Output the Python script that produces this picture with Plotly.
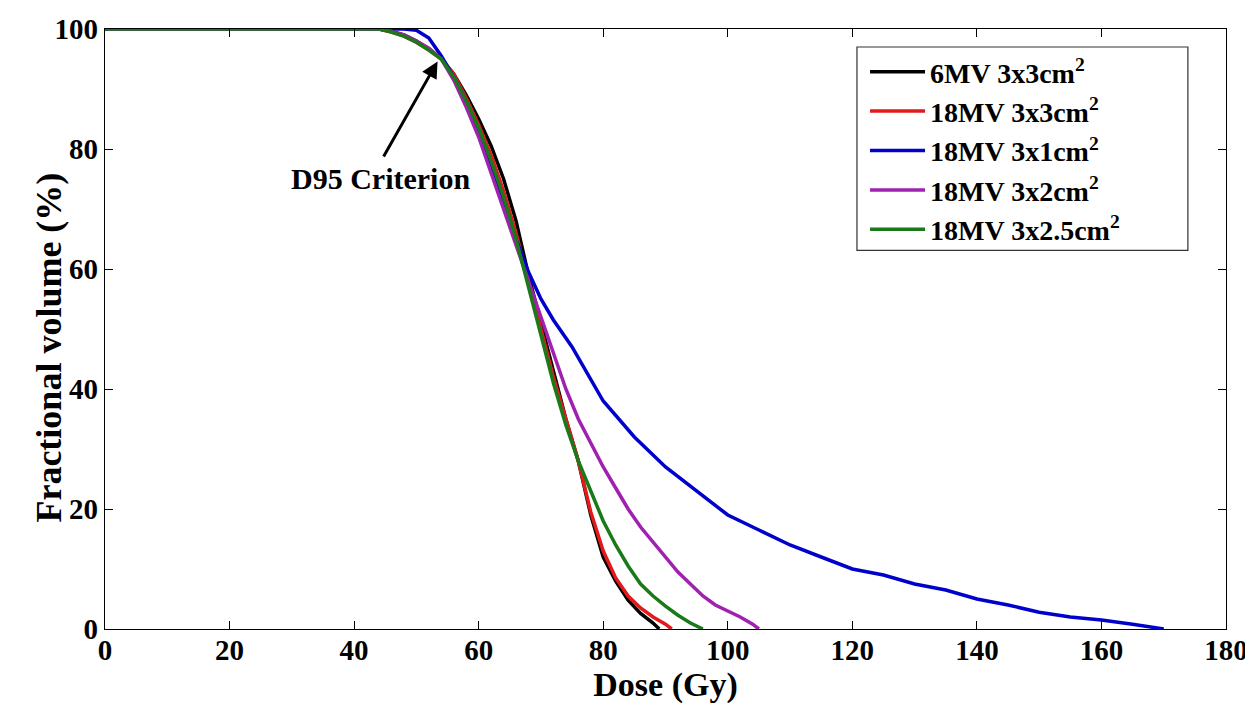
import plotly.graph_objects as go

# ---- data ----
black_x = [0, 44, 46, 48, 50, 52, 54, 56, 58, 60, 62, 64, 66, 68, 70, 72, 74, 76, 78, 80, 82, 84, 86, 88, 89]
black_y = [100, 100, 99.6, 99, 98, 96.7, 95, 92.5, 89, 85, 80.5, 75, 68, 59, 51, 43, 35, 28, 19, 12, 8, 4.8, 2.6, 1, 0]

red_x = [0, 44, 46, 48, 50, 52, 54, 56, 58, 60, 62, 64, 66, 68, 70, 72, 74, 76, 78, 80, 82, 84, 86, 88, 90, 91]
red_y = [100, 100, 99.5, 98.8, 97.8, 96.5, 95, 92.5, 88.5, 84, 79, 73, 66, 58, 50, 42, 35, 28, 19.5, 13, 8.5, 5.5, 3.5, 2, 0.8, 0]

blue_x = [0, 44, 48, 50, 52, 54, 56, 58, 60, 62, 64, 66, 68, 70, 72, 75, 80, 85, 90, 95, 100, 105, 110, 115,
          120, 125, 130, 135, 140, 145, 150, 155, 160, 165, 168, 170]
blue_y = [100, 100, 100, 99.8, 98.5, 95.5, 92, 88, 83, 77, 71, 65, 59.5, 55, 51.5, 47, 38, 32, 27, 23, 19, 16.5,
          14, 12, 10, 9, 7.5, 6.5, 5, 4, 2.8, 2, 1.5, 0.8, 0.3, 0]

magenta_x = [0, 44, 46, 48, 50, 52, 54, 56, 58, 60, 62, 64, 66, 68, 70, 72, 74, 76, 78, 80, 82, 84, 86, 88, 90,
             92, 94, 96, 98, 100, 102, 104, 105]
magenta_y = [100, 100, 99.6, 99, 98, 96.8, 95, 91.5, 87, 82, 76, 70, 64, 58, 52, 46, 40, 35, 31, 27, 23.5, 20,
             17, 14.5, 12, 9.5, 7.5, 5.5, 4, 3, 2, 0.8, 0]

green_x = [0, 44, 46, 48, 50, 52, 54, 56, 58, 60, 62, 64, 66, 68, 70, 72, 74, 76, 78, 80, 82, 84, 86, 88, 90, 92, 94, 96]
green_y = [100, 100, 99.5, 98.8, 97.8, 96.5, 95, 92, 88, 83.5, 78, 72, 65, 57, 49, 41, 34, 28, 23, 18, 14, 10.5,
           7.5, 5.5, 3.8, 2.3, 1, 0]

series_names = ["6MV 3x3cm<sup>2</sup>", "18MV 3x3cm<sup>2</sup>", "18MV 3x1cm<sup>2</sup>",
                "18MV 3x2cm<sup>2</sup>", "18MV 3x2.5cm<sup>2</sup>"]
series_colors = ["#000000", "#e31a1c", "#0000cc", "#a020b0", "#1a7a1a"]

x_ticks = [0, 20, 40, 60, 80, 100, 120, 140, 160, 180]
y_ticks = [0, 20, 40, 60, 80, 100]

FONT = "Liberation Serif"

fig = go.Figure()
data = [(black_x, black_y), (red_x, red_y), (blue_x, blue_y), (magenta_x, magenta_y), (green_x, green_y)]
for (xs, ys), name, col in zip(data, series_names, series_colors):
    fig.add_trace(go.Scatter(x=xs, y=ys, mode="lines", name=f"<b>{name}</b>",
                             line=dict(color=col, width=3.5)))

fig.add_annotation(x=53.4, y=94.6, ax=44.6, ay=78.5, xref="x", yref="y", axref="x", ayref="y",
                   text="", showarrow=True, arrowhead=2, arrowsize=1.1, arrowwidth=3, arrowcolor="black")
fig.add_annotation(x=44.2, y=75.1, xref="x", yref="y", text="<b>D95 Criterion</b>", showarrow=False,
                   font=dict(family=FONT, size=30, color="black"))

# y-axis title placed as a rotated annotation
fig.add_annotation(x=-0.0696, y=0.469, xref="paper", yref="paper", text="<b>Fractional volume (%)</b>",
                   textangle=-90, showarrow=False, font=dict(family=FONT, size=36, color="black"))

# legend frame
fig.add_shape(type="rect", xref="paper", yref="paper", x0=0.6708, x1=0.966, y0=0.631, y1=0.970,
              line=dict(color="#333333", width=1.2), fillcolor="white", layer="below")

axis_common = dict(showgrid=False, zeroline=False, showline=True, linecolor="black", linewidth=1.2,
                   mirror="ticks", ticks="inside", ticklen=8, tickcolor="black", automargin=False,
                   tickfont=dict(family=FONT, size=29, color="black"))

fig.update_xaxes(range=[0, 180], tickvals=x_ticks, ticktext=[f"<b>{v}</b>" for v in x_ticks],
                 ticklabelstandoff=-5,
                 title=dict(text="<b>Dose (Gy)</b>", font=dict(family=FONT, size=34, color="black"), standoff=2),
                 **axis_common)
fig.update_yaxes(range=[0, 100], tickvals=y_ticks, ticktext=[f"<b>{v}</b>" for v in y_ticks],
                 **axis_common)

fig.update_layout(
    width=1245, height=698,
    margin=dict(l=97, r=27, t=21, b=77),
    paper_bgcolor="white", plot_bgcolor="white",
    font=dict(family=FONT, color="black"),
    legend=dict(x=0.678, y=0.97, xanchor="left", yanchor="top",
                bgcolor="rgba(0,0,0,0)", borderwidth=0,
                font=dict(family=FONT, size=28, color="black"),
                itemwidth=55, tracegroupgap=0),
)

fig.write_html("out.html")
